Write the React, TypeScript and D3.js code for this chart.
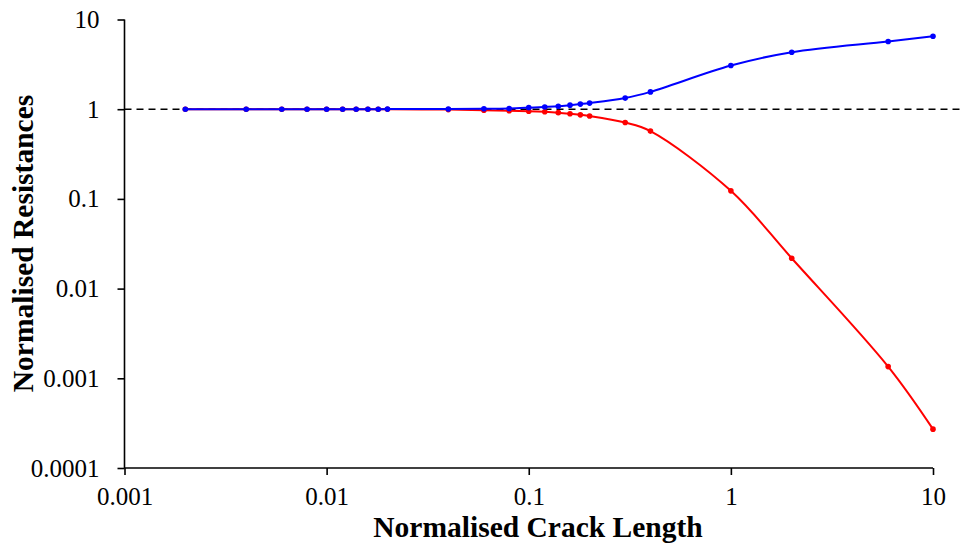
import { useRef, useEffect } from 'react';
import * as d3 from 'd3';

const crackLengths = [0.002, 0.004, 0.006, 0.008, 0.01, 0.012, 0.014, 0.016, 0.018, 0.02, 0.04, 0.06, 0.08, 0.1, 0.12, 0.14, 0.16, 0.18, 0.2, 0.3, 0.4, 1, 2, 6, 10];
const blueResistance = [1, 1, 1, 1, 1, 1, 1, 1, 1, 1.002, 1.005, 1.01, 1.02, 1.04, 1.06, 1.08, 1.11, 1.14, 1.17, 1.33, 1.56, 3.07, 4.32, 5.69, 6.51];
const redResistance = [1, 1, 1, 1, 1, 1, 0.999, 0.999, 0.998, 0.998, 0.99, 0.975, 0.96, 0.95, 0.935, 0.915, 0.89, 0.865, 0.84, 0.71, 0.57, 0.123, 0.0218, 0.00135, 0.000271];
const xTicks = [0.001, 0.01, 0.1, 1, 10];
const yTicks = [0.0001, 0.001, 0.01, 0.1, 1, 10];
const tickLabel = (v: number) => String(v);
const referenceLine: [number, number][] = [[0.001, 1], [14, 1]];

const W = 961;
const H = 549;

const App: React.FC = () => {
    const svgRef = useRef<SVGSVGElement>(null);

    useEffect(() => {
        document.body.style.margin = '0';
        if (!svgRef.current) return;
        const svg = d3.select(svgRef.current);
        svg.selectAll("*").remove();

        const x = d3.scaleLog().domain([0.001, 10]).range([124.5, 933]);
        const y = d3.scaleLog().domain([0.0001, 10]).range([468, 19.5]);
        const font = "'Liberation Serif', 'Times New Roman', serif";

        // dashed reference at 1
        svg.append("path")
            .attr("d", d3.line<[number, number]>().x(d => x(d[0])).y(d => y(d[1]))(referenceLine)!)
            .attr("stroke", "#000")
            .attr("stroke-width", 1.6)
            .attr("stroke-dasharray", "7,5")
            .attr("fill", "none");

        const gx = svg.append("g")
            .attr("transform", `translate(0,${y(0.0001)})`)
            .call(d3.axisBottom(x).tickValues(xTicks).tickFormat(d => tickLabel(d as number)).tickSize(7).tickSizeOuter(0).tickPadding(12));
        gx.selectAll("path, line").attr("stroke", "#000").attr("stroke-width", 1.6);
        gx.selectAll("text").attr("fill", "#000").style("font-family", font).style("font-size", "25px");
        gx.select(".domain").attr("d", `M${x(0.001)},0H${x(10)}`);

        const gy = svg.append("g")
            .attr("transform", `translate(${x(0.001)},0)`)
            .call(d3.axisLeft(y).tickValues(yTicks).tickFormat(d => tickLabel(d as number)).tickSize(7).tickSizeOuter(0).tickPadding(18));
        gy.selectAll("path, line").attr("stroke", "#000").attr("stroke-width", 1.6);
        gy.selectAll("text").attr("fill", "#000").style("font-family", font).style("font-size", "25px");
        gy.select(".domain").attr("d", `M0,${y(10)}V${y(0.0001)}`);

        const series = [
            { values: redResistance, color: "#FF0000" },
            { values: blueResistance, color: "#0000FF" },
        ];

        series.forEach(s => {
            const pts: [number, number][] = crackLengths.map((c, i) => [c, s.values[i]]);
            const line = d3.line<[number, number]>()
                .x(d => x(d[0]))
                .y(d => y(d[1]))
                .curve(d3.curveCatmullRom);
            svg.append("path")
                .attr("d", line(pts)!)
                .attr("fill", "none")
                .attr("stroke", s.color)
                .attr("stroke-width", 2);
            svg.append("g")
                .selectAll("circle")
                .data(pts)
                .join("circle")
                .attr("cx", d => x(d[0]))
                .attr("cy", d => y(d[1]))
                .attr("r", 2.8)
                .attr("fill", s.color);
        });

        svg.append("text")
            .attr("x", 538)
            .attr("y", 537)
            .attr("text-anchor", "middle")
            .style("font-family", font)
            .style("font-weight", "bold")
            .style("font-size", "29.5px")
            .text("Normalised Crack Length");

        svg.append("text")
            .attr("transform", `translate(33,243.5) rotate(-90)`)
            .attr("text-anchor", "middle")
            .style("font-family", font)
            .style("font-weight", "bold")
            .style("font-size", "29.5px")
            .text("Normalised Resistances");
    }, []);

    return (
        <svg ref={svgRef} width={W} height={H} style={{ display: 'block', background: '#fff' }}></svg>
    );
};

export default App;
